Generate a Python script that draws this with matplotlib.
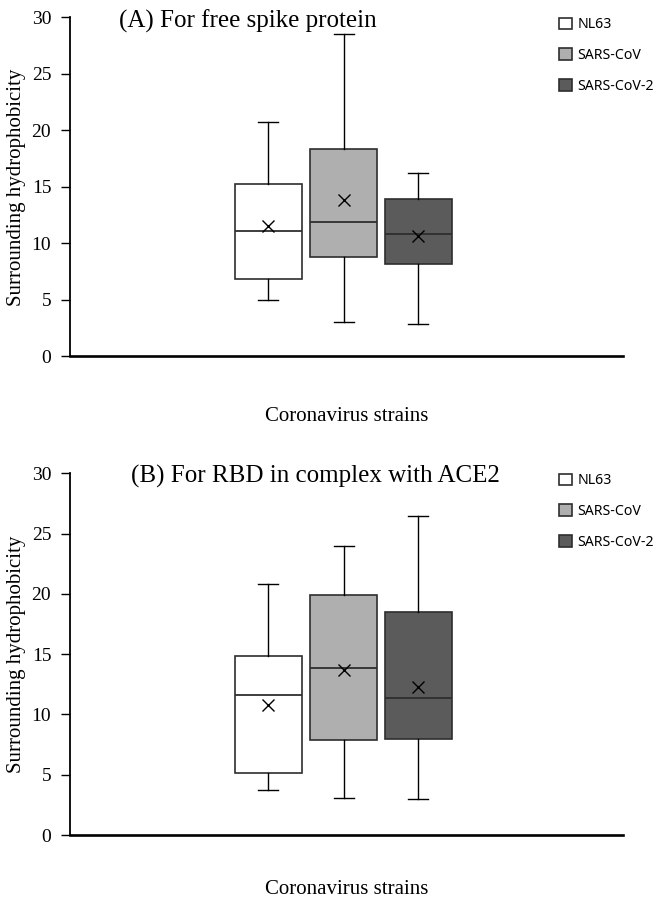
import numpy as np
import matplotlib
matplotlib.use('Agg')
import matplotlib.pyplot as plt
from matplotlib.patches import Patch

# ---- data ----
strains = ['NL63', 'SARS-CoV', 'SARS-CoV-2']
colors = ['#ffffff', '#afafaf', '#5b5b5b']

# panel A: free spike protein
a_min = [4.97, 3.02, 2.90]
a_q1 = [6.85, 8.81, 8.19]
a_med = [11.14, 11.89, 10.85]
a_q3 = [15.22, 18.33, 13.93]
a_max = [20.74, 28.54, 16.24]
a_mean = [11.58, 13.81, 10.70]

# panel B: RBD in complex with ACE2
b_min = [3.76, 3.07, 3.01]
b_q1 = [5.14, 7.91, 7.99]
b_med = [11.61, 13.85, 11.34]
b_q3 = [14.87, 19.93, 18.52]
b_max = [20.82, 23.97, 26.46]
b_mean = [10.78, 13.69, 12.30]

titles = ['(A) For free spike protein', '(B) For RBD in complex with ACE2']
positions = [0.3586, 0.495, 0.630]

serif = ['Liberation Serif', 'DejaVu Serif']

fig = plt.figure(figsize=(6.57, 9.0), dpi=100)
ax_a = fig.add_axes([0.1065, 0.6039, 0.8417, 0.3767])
ax_b = fig.add_axes([0.1065, 0.0722, 0.8417, 0.4019])


def draw_panel(ax, mins, q1s, meds, q3s, maxs, means):
    stats = []
    for i in range(len(strains)):
        stats.append(dict(whislo=mins[i], q1=q1s[i], med=meds[i], q3=q3s[i],
                          whishi=maxs[i], mean=means[i], fliers=[], label=strains[i]))
    bp = ax.bxp(stats, positions=positions, widths=0.121, patch_artist=True,
                showmeans=True, capwidths=0.11 * 0.33,
                boxprops=dict(edgecolor='#2e2e2e', linewidth=1.2),
                medianprops=dict(color='#2e2e2e', linewidth=1.3),
                whiskerprops=dict(color='black', linewidth=1.0),
                capprops=dict(color='black', linewidth=1.0),
                meanprops=dict(marker='x', markeredgecolor='black',
                               markerfacecolor='black', markersize=9,
                               markeredgewidth=1.0))
    for patch, c in zip(bp['boxes'], colors):
        patch.set_facecolor(c)
    ax.set_xlim(0, 1)
    ax.set_ylim(0, 30)
    ax.set_yticks(np.arange(0, 31, 5))
    ax.set_xticks([])
    for s in ['top', 'right']:
        ax.spines[s].set_visible(False)
    ax.spines['left'].set_linewidth(1.3)
    ax.spines['bottom'].set_linewidth(1.9)
    ax.tick_params(axis='y', length=6.5, width=1.0, pad=7, labelsize=14)
    for lab in ax.get_yticklabels():
        lab.set_fontfamily(serif)
    ax.set_ylabel('Surrounding hydrophobicity', fontsize=15, family=serif, labelpad=4)


draw_panel(ax_a, a_min, a_q1, a_med, a_q3, a_max, a_mean)
draw_panel(ax_b, b_min, b_q1, b_med, b_q3, b_max, b_mean)

fig.text(247.5 / 657, 1 - 28 / 900, titles[0], ha='center', va='baseline',
         fontsize=18, family=serif)
fig.text(315 / 657, 1 - 482.3 / 900, titles[1], ha='center', va='baseline',
         fontsize=18, family=serif)

fig.text(346.5 / 657, 1 - 420.7 / 900, 'Coronavirus strains', ha='center',
         va='baseline', fontsize=15, family=serif)
fig.text(346.5 / 657, 0.5 / 900, 'Coronavirus strains', ha='center',
         va='bottom', fontsize=15, family=serif)

handles = [Patch(facecolor=c, edgecolor='#2e2e2e', linewidth=1.2) for c in colors]
for ytop in [1 - 17.3 / 900, 1 - 473.3 / 900]:
    fig.legend(handles, strains, loc='upper left', bbox_to_anchor=(559 / 657, ytop),
               frameon=False, borderpad=0, borderaxespad=0, handlelength=0.9,
               handleheight=0.9, handletextpad=0.4, labelspacing=1.12,
               prop={'family': ['Noto Sans', 'DejaVu Sans'], 'size': 10.2})

fig.savefig('out.png', dpi=100)
